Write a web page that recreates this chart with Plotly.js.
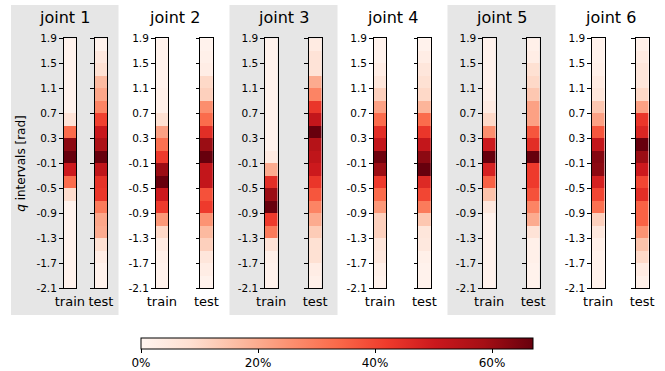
<!DOCTYPE html>
<html>
<head>
<meta charset="utf-8">
<script src="https://cdn.plot.ly/plotly-3.0.1.min.js"></script>
<style>html,body{margin:0;padding:0;background:#fff;}#chart{width:665px;height:371px;}</style>
</head>
<body>
<div id="chart"></div>
<script>
// Bin centres (top to bottom), 0.2 rad wide bins from 1.9 down to -2.1
const binCenters = [1.8,1.6,1.4,1.2,1.0,0.8,0.6,0.4,0.2,0.0,-0.2,-0.4,-0.6,-0.8,-1.0,-1.2,-1.4,-1.6,-1.8,-2.0];
const tickValues = [-2.1,-1.7,-1.3,-0.9,-0.5,-0.1,0.3,0.7,1.1,1.5,1.9];
const tickLabels = ["-2.1","-1.7","-1.3","-0.9","-0.5","-0.1","0.3","0.7","1.1","1.5","1.9"];
const jointNames = ["joint 1","joint 2","joint 3","joint 4","joint 5","joint 6"];
const splitNames = ["train","test"];

// share of samples per bin (fraction), top to bottom
const j1Train = [0.01,0.01,0.01,0.01,0.01,0.01,0.07,0.33,0.62,0.67,0.50,0.33,0.09,0.01,0.01,0.01,0.01,0.01,0.01,0.01];
const j1Test  = [0.01,0.05,0.08,0.17,0.21,0.28,0.41,0.51,0.57,0.67,0.53,0.44,0.43,0.30,0.21,0.20,0.08,0.03,0.01,0.01];
const j2Train = [0.01,0.01,0.01,0.01,0.02,0.02,0.08,0.22,0.32,0.42,0.60,0.67,0.50,0.42,0.24,0.10,0.04,0.02,0.01,0.01];
const j2Test  = [0.01,0.02,0.03,0.10,0.12,0.26,0.33,0.45,0.60,0.67,0.52,0.52,0.38,0.42,0.25,0.17,0.12,0.06,0.03,0.01];
const j3Train = [0.01,0.01,0.01,0.01,0.01,0.01,0.01,0.01,0.01,0.04,0.20,0.45,0.60,0.67,0.42,0.30,0.07,0.02,0.01,0.01];
const j3Test  = [0.04,0.07,0.07,0.20,0.28,0.43,0.52,0.67,0.55,0.53,0.50,0.43,0.37,0.28,0.20,0.13,0.08,0.08,0.03,0.02];
const j4Train = [0.01,0.01,0.03,0.06,0.12,0.22,0.33,0.45,0.52,0.66,0.60,0.42,0.33,0.24,0.12,0.12,0.06,0.05,0.02,0.01];
const j4Test  = [0.01,0.03,0.06,0.08,0.10,0.18,0.33,0.43,0.52,0.62,0.67,0.46,0.40,0.30,0.14,0.06,0.05,0.02,0.01,0.01];
const j5Train = [0.01,0.01,0.01,0.01,0.02,0.04,0.10,0.26,0.50,0.67,0.48,0.35,0.15,0.05,0.01,0.01,0.01,0.01,0.01,0.01];
const j5Test  = [0.02,0.03,0.08,0.10,0.14,0.22,0.22,0.37,0.45,0.67,0.42,0.42,0.38,0.28,0.20,0.07,0.02,0.02,0.01,0.01];
const j6Train = [0.01,0.01,0.02,0.04,0.06,0.14,0.22,0.37,0.52,0.63,0.62,0.48,0.40,0.32,0.12,0.05,0.02,0.01,0.01,0.01];
const j6Test  = [0.02,0.04,0.06,0.06,0.10,0.22,0.43,0.47,0.67,0.60,0.50,0.40,0.45,0.35,0.35,0.25,0.15,0.10,0.04,0.02];

const columns = [[j1Train,j1Test],[j2Train,j2Test],[j3Train,j3Test],[j4Train,j4Test],[j5Train,j5Test],[j6Train,j6Test]];

const W = 665, H = 371;
const FONT = "DejaVu Sans, Liberation Sans, sans-serif";
const reds = [[0,'#fff5f0'],[0.125,'#fee0d2'],[0.25,'#fcbba1'],[0.375,'#fc9272'],[0.5,'#fb6a4a'],[0.625,'#ef3b2c'],[0.75,'#cb181d'],[0.875,'#a50f15'],[1,'#67000d']];

// pixel layout
const trainLeft = [63.5,155.5,264.8,373.6,482.8,591.8];
const testLeft  = [94.5,200.0,308.8,418.0,526.8,635.8];
const colW = 12.8;
const plotTop = 38.3, plotBottom = 288.3;
const panels = [[11,118.5],[120,228],[229.5,337.5],[338.5,446],[447.5,555.5],[556,664]];

const data = [];
const layout = {
  width: W, height: H,
  margin: {l:0,r:0,t:0,b:0},
  paper_bgcolor: '#ffffff',
  plot_bgcolor: 'rgba(0,0,0,0)',
  font: {family: FONT, color: '#000', size: 10.5},
  showlegend: false,
  coloraxis: {
    colorscale: reds, cmin: 0, cmax: 0.67,
    colorbar: {
      orientation: 'h', x: 337/W, xanchor: 'center', len: 392/W, lenmode: 'fraction',
      y: (H-338)/H, yanchor: 'top', thickness: 10.5, thicknessmode: 'pixels',
      xpad: 0, ypad: 0, outlinewidth: 1, outlinecolor: '#000',
      ticks: 'outside', ticklen: 3.5, tickwidth: 1, tickcolor: '#000',
      tickvals: [0,0.2,0.4,0.6], ticktext: ['0%','20%','40%','60%'],
      tickfont: {family: FONT, size: 12, color: '#000'}
    }
  },
  shapes: [], annotations: []
};

let k = 0;
for (let j = 0; j < 6; j++) {
  for (let s = 0; s < 2; s++) {
    k++;
    const xa = 'xaxis' + (k === 1 ? '' : k);
    const ya = 'yaxis' + (k === 1 ? '' : k);
    const left = s === 0 ? trainLeft[j] : testLeft[j];
    data.push({
      type: 'heatmap',
      x: [0], y: binCenters,
      z: columns[j][s].map(v => [v]),
      coloraxis: 'coloraxis',
      xaxis: 'x' + (k === 1 ? '' : k),
      yaxis: 'y' + (k === 1 ? '' : k),
      hoverinfo: 'skip'
    });
    layout[xa] = {
      domain: [left/W, (left+colW)/W],
      anchor: 'y' + (k === 1 ? '' : k),
      range: [-0.5, 0.5], showticklabels: false, ticks: '', showgrid: false, zeroline: false,
      showline: true, mirror: true, linecolor: '#000', linewidth: 1,
      title: {text: splitNames[s], font: {family: FONT, size: 13, color: '#000'}, standoff: 8}
    };
    layout[ya] = {
      domain: [(H-plotBottom)/H, (H-plotTop)/H],
      anchor: 'x' + (k === 1 ? '' : k),
      range: [-2.1, 1.9], showgrid: false, zeroline: false,
      tickmode: 'array', tickvals: tickValues, ticktext: tickLabels,
      ticks: 'outside', ticklen: 3.5, tickwidth: 1, tickcolor: '#000',
      showticklabels: s === 0,
      tickfont: {family: FONT, size: 10.5, color: '#000'},
      showline: true, mirror: true, linecolor: '#000', linewidth: 1
    };
  }
  if (j % 2 === 0) {
    layout.shapes.push({type:'rect', xref:'paper', yref:'paper', layer:'below',
      x0: panels[j][0]/W, x1: panels[j][1]/W, y0: (H-315)/H, y1: (H-5)/H,
      fillcolor: '#e6e6e6', line: {width: 0}});
  }
  layout.annotations.push({
    xref: 'paper', yref: 'paper', x: (panels[j][0]+panels[j][1])/2/W, y: (H-17)/H,
    xanchor: 'center', yanchor: 'middle', showarrow: false,
    text: jointNames[j], font: {family: FONT, size: 16, color: '#000'}
  });
}
layout.annotations.push({
  xref: 'paper', yref: 'paper', x: 21.5/W, y: (H-163.3)/H, xanchor: 'center', yanchor: 'middle',
  showarrow: false, textangle: -90,
  text: '<i>q</i> intervals [rad]', font: {family: FONT, size: 12, color: '#000'}
});

Plotly.newPlot('chart', data, layout, {displayModeBar: false, staticPlot: true});
</script>
</body>
</html>
